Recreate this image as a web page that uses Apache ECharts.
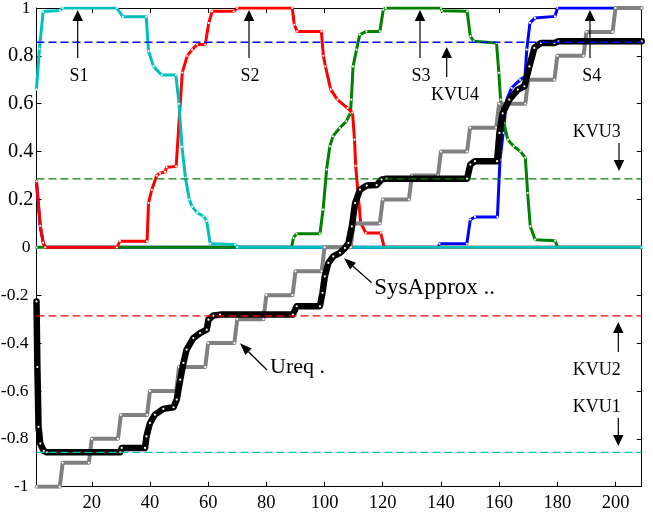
<!DOCTYPE html>
<html>
<head>
<meta charset="utf-8">
<script src="https://cdn.jsdelivr.net/npm/echarts@6/dist/echarts.min.js"></script>
<style>
  html, body { margin: 0; padding: 0; background: #fff; }
  #chart { width: 653px; height: 513px; }
</style>
</head>
<body>
<div id="chart"></div>
<script>
// Sample range of the simulation
const xRange = [1, 209];
const yRange = [-1, 1];

// Membership of the output in the four states S1..S4 ([step, value])
const s1 = [[1,0.66],[2,0.83],[3.3,0.985],[9,0.99],[10,1],[28.6,1],[30.7,0.963],[38.7,0.963],
  [39.5,0.82],[41.2,0.756],[44,0.72],[48.9,0.72],[50,0.6],[51,0.42],[52.2,0.29],[53.5,0.2],
  [54.5,0.17],[56.2,0.145],[58.4,0.13],[59.5,0.11],[60.7,0.015],[69.3,0.012],[70,0],[209,0]];

const s2 = [[1,0.276],[2.3,0.09],[3.3,0.02],[4,0],[28.6,0],[29.7,0.026],[39,0.026],[39.5,0.185],
  [40.6,0.24],[42.3,0.3],[43.4,0.31],[45.2,0.315],[45.7,0.335],[49,0.338],[51.1,0.73],[52.8,0.8],
  [54.5,0.826],[56.2,0.847],[59,0.847],[60.2,0.937],[61.4,0.986],[68.8,0.986],[70,1],[88.9,1],
  [89.6,0.93],[90.6,0.902],[98.9,0.902],[99.6,0.8],[100.3,0.756],[102.1,0.66],[104.4,0.617],
  [107.9,0.582],[109.6,0.563],[110.3,0.45],[110.7,0.34],[112.4,0.103],[114.2,0.06],[119.3,0.06],
  [120.5,0],[209,0]];

const s3 = [[1,0],[88.7,0],[89.3,0.04],[90.4,0.057],[98.4,0.057],[99.5,0.158],[100.7,0.325],
  [101.8,0.422],[102.9,0.464],[105.2,0.499],[107.5,0.526],[108.9,0.562],[109.2,0.617],[109.8,0.756],
  [111,0.826],[112.1,0.889],[114.4,0.902],[119,0.902],[120.2,0.993],[121,1],[140,1],[140.3,0.989],
  [149,0.986],[150.1,0.882],[151.3,0.861],[159.1,0.854],[159.9,0.729],[160.5,0.617],[161.6,0.52],
  [163,0.45],[165,0.422],[167.3,0.401],[169,0.375],[169.8,0.227],[170.7,0.088],[172.4,0.032],
  [179.3,0.028],[180,0],[209,0]];

const s4 = [[1,0.27],[2.3,0.085],[3.3,0.02],[4,0],[139.1,0],[139.5,0.015],[148.9,0.015],[150.1,0.116],
  [151.7,0.127],[159.4,0.127],[160.3,0.366],[161.4,0.478],[162.6,0.617],[164.3,0.666],[167.2,0.7],
  [168.9,0.714],[169.5,0.826],[170.6,0.938],[172.3,0.958],[179.2,0.965],[180,1],[209,1]];

// Requested control signal (staircase)
const ureq = [[1,-1],[9,-1],[10,-0.9],[19,-0.9],[20,-0.8],[29,-0.8],[30,-0.7],[39,-0.7],[40,-0.6],
  [49,-0.6],[50,-0.5],[59,-0.5],[60,-0.4],[69,-0.4],[70,-0.3],[79,-0.3],[80,-0.2],[89,-0.2],
  [90,-0.1],[99,-0.1],[100,0],[109,0],[110,0.1],[119,0.1],[120,0.2],[129,0.2],[130,0.3],[139,0.3],
  [140,0.4],[149,0.4],[150,0.5],[159,0.5],[160,0.6],[169,0.6],[170,0.7],[179,0.7],[180,0.8],
  [189,0.8],[190,0.9],[199,0.9],[200,1],[209,1]];

// Approximated system output
const sysApprox = [[1,-0.226],[1.3,-0.5],[1.7,-0.75],[2.3,-0.82],[3.5,-0.85],[4.5,-0.856],
  [29.8,-0.856],[30.3,-0.838],[38.3,-0.838],[38.8,-0.79],[40,-0.734],[41.7,-0.699],[44.6,-0.675],
  [48.1,-0.668],[49.2,-0.636],[50.4,-0.553],[51.5,-0.483],[52.6,-0.427],[54.9,-0.379],[57.2,-0.358],
  [59.5,-0.344],[60.1,-0.302],[61.8,-0.285],[64.1,-0.281],[89.1,-0.281],[90.4,-0.246],[98.4,-0.246],
  [99.3,-0.19],[100.1,-0.121],[101.3,-0.065],[103,-0.038],[105.3,-0.023],[107,-0.003],[108.2,0.018],
  [109.4,0.088],[110.5,0.185],[112.2,0.241],[114.5,0.258],[117.9,0.26],[119.6,0.283],[121.3,0.287],
  [149,0.287],[150.1,0.346],[151.7,0.36],[159.3,0.36],[160.1,0.478],[161.2,0.56],[163.5,0.617],
  [166.4,0.659],[168.7,0.673],[170.4,0.756],[172.1,0.833],[174.4,0.854],[179,0.854],[180.4,0.861],
  [209,0.861]];

// Class boundaries KVU1..KVU4
const kvuLevels = [-0.857, -0.286, 0.286, 0.857];
const kvuColors = ['#00bfbf', '#ff0000', '#008000', '#0000ff'];

const FONT = '"Liberation Serif", "Times New Roman", serif';

function curve(data, color, width, z, dots) {
  return {
    type: 'line', data: data, z: z,
    showSymbol: !!dots, symbol: 'circle', symbolSize: 2.2,
    itemStyle: { color: '#ffffff', borderWidth: 0 },
    lineStyle: { color: color, width: width, join: 'round', cap: 'round' },
    emphasis: { disabled: true }, silent: true, animation: false
  };
}

const series = [
  curve(s4, '#0000ff', 3, 2, true),
  curve(s3, '#008000', 3, 3, true),
  curve(s2, '#ff0000', 3, 4, true),
  curve(s1, '#00bfbf', 3, 5, true),
  curve(ureq, '#808080', 4, 6, true),
  curve(sysApprox, '#000000', 6.5, 7, true)
];
kvuLevels.forEach(function (v, i) {
  series.push({
    type: 'line', data: [[xRange[0], v], [xRange[1], v]], z: 9,
    showSymbol: false,
    lineStyle: { color: kvuColors[i], width: 1.3, type: [8, 4] },
    emphasis: { disabled: true }, silent: true, animation: false
  });
});

function axisCommon(extra) {
  return Object.assign({
    type: 'value',
    axisLine: { show: true, onZero: false, lineStyle: { color: '#000', width: 1 } },
    axisTick: { show: true, inside: true, length: 5, lineStyle: { color: '#000', width: 1 } },
    splitLine: { show: false },
    axisLabel: { color: '#000', fontFamily: FONT, fontSize: 18 }
  }, extra);
}

const xBase = { min: xRange[0], max: xRange[1], splitNumber: 10 };
const yBase = { min: yRange[0], max: yRange[1], interval: 0.2 };

// y tick labels: fractional positive values are set a little larger
function yLabel(v) {
  const r = Math.round(v * 10) / 10;
  if (r > 0 && r < 1) return '{p|' + r + '}';
  if (r < 0) return '{n|' + r + '}';
  return '{w|' + r + '}';
}

// Arrow: shaft plus filled head, from (x1,y1) to tip (x2,y2)
function arrow(x1, y1, x2, y2, headLen, headW) {
  headLen = headLen || 11; headW = headW || 10.5;
  const dx = x2 - x1, dy = y2 - y1, L = Math.hypot(dx, dy);
  const ux = dx / L, uy = dy / L;
  const bx = x2 - ux * headLen, by = y2 - uy * headLen;
  const px = -uy, py = ux;
  return [
    { type: 'line', z: 20, shape: { x1: x1, y1: y1, x2: bx, y2: by }, style: { stroke: '#000', lineWidth: 1.2 } },
    { type: 'polygon', z: 20, shape: { points: [[x2, y2], [bx + px * headW / 2, by + py * headW / 2], [bx - px * headW / 2, by - py * headW / 2]] }, style: { fill: '#000' } }
  ];
}
function label(text, x, y, size, align) {
  return { type: 'text', z: 20, x: x, y: y,
    style: { text: text, font: size + 'px ' + FONT, fill: '#000', align: align || 'center', verticalAlign: 'middle' } };
}

const graphics = [].concat(
  label('S1', 79, 76, 18), arrow(77.7, 58, 77.7, 10),
  label('S2', 250, 76, 18), arrow(249, 58, 249, 10),
  label('S3', 421, 76, 18), arrow(420, 58, 420, 10),
  label('S4', 591.7, 76, 18), arrow(590, 58, 590, 10),
  label('KVU4', 455, 95, 18), arrow(446.7, 77, 446.7, 47),
  label('KVU3', 596.7, 132, 18), arrow(619, 143, 619, 171),
  label('KVU2', 596.7, 370, 18), arrow(618.3, 352, 618.3, 322),
  label('KVU1', 596.7, 407, 18), arrow(618.3, 418, 618.3, 446),
  label('SysApprox ..', 374.3, 288, 23, 'left'), arrow(371.7, 282.7, 344, 258.3, 12, 9),
  label('Ureq .', 270, 367, 22, 'left'), arrow(267, 370, 240, 343.3, 12, 9)
);

const chart = echarts.init(document.getElementById('chart'), null, { renderer: 'canvas' });
chart.setOption({
  animation: false,
  backgroundColor: '#ffffff',
  grid: { left: 36.5, right: 11.3, top: 8, bottom: 26.3, containLabel: false, outerBoundsMode: 'none' },
  xAxis: [
    axisCommon(Object.assign({ position: 'bottom',
      axisLabel: { color: '#000', fontFamily: FONT, fontSize: 18.5, margin: 7, showMinLabel: false, showMaxLabel: false } }, xBase)),
    axisCommon(Object.assign({ position: 'top', axisLabel: { show: false } }, xBase))
  ],
  yAxis: [
    axisCommon(Object.assign({ position: 'left',
      axisLabel: { color: '#000', fontFamily: FONT, margin: 3, formatter: yLabel,
        rich: {
          p: { fontFamily: FONT, fontSize: 20.5, color: '#000' },
          n: { fontFamily: FONT, fontSize: 17.5, color: '#000', padding: [0, 5, 0, 0] },
          w: { fontFamily: FONT, fontSize: 17.5, color: '#000', padding: [0, 3, 0, 0] }
        } } }, yBase)),
    axisCommon(Object.assign({ position: 'right', axisLabel: { show: false } }, yBase))
  ],
  series: series,
  graphic: graphics
});
</script>
</body>
</html>
